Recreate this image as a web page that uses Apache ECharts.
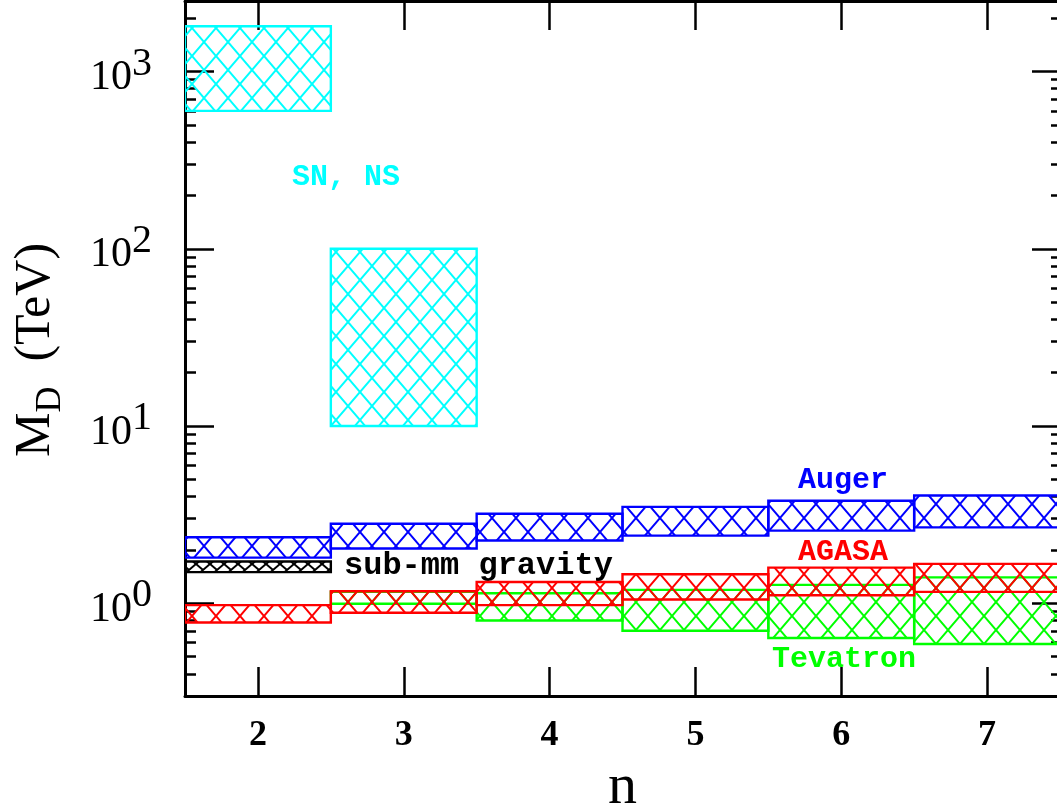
<!DOCTYPE html>
<html><head><meta charset="utf-8">
<script src="https://cdn.jsdelivr.net/npm/echarts@6/dist/echarts.min.js"></script>
<style>html,body{margin:0;padding:0;background:#fff}#c{width:1057px;height:803px}</style>
</head><body><div id="c"></div>
<script>
// ---- data ----
const nTicks = [2, 3, 4, 5, 6, 7];
const xTickLabels = ['2', '3', '4', '5', '6', '7'];
const yMajorTicks = [1, 10, 100, 1000];
const yTickExponents = ['0', '1', '2', '3'];
const yMinorTicks = [0.4, 0.5, 0.6, 0.7, 0.8, 0.9,
  2, 3, 4, 5, 6, 7, 8, 9,
  20, 30, 40, 50, 60, 70, 80, 90,
  200, 300, 400, 500, 600, 700, 800, 900, 2000];

const snN = [2, 3];
const snLow = [600, 10];
const snHigh = [1800, 100];

const augerN = [2, 3, 4, 5, 6, 7];
const augerLow = [1.81, 2.04, 2.26, 2.41, 2.57, 2.68];
const augerHigh = [2.36, 2.81, 3.20, 3.50, 3.79, 4.06];

const agasaN = [2, 3, 4, 5, 6, 7];
const agasaLow = [0.78, 0.885, 0.977, 1.05, 1.11, 1.16];
const agasaHigh = [0.977, 1.17, 1.32, 1.46, 1.59, 1.67];

const tevN = [3, 4, 5, 6, 7];
const tevLow = [0.994, 0.80, 0.70, 0.637, 0.589];
const tevHigh = [1.16, 1.14, 1.19, 1.27, 1.40];

const subN = [2];
const subLow = [1.50];
const subHigh = [1.72];

// ---- styles ----
const COL = { cyan: '#00ffff', blue: '#0000ff', red: '#ff0000', green: '#00ff00', black: '#000000' };
const MONO = "'Liberation Mono', 'DejaVu Sans Mono', monospace";
const SERIF = "'Liberation Serif', 'DejaVu Serif', serif";

function hatch(color, w, h, lw) {
  const c = document.createElement('canvas');
  c.width = w; c.height = h;
  const g = c.getContext('2d');
  g.strokeStyle = color; g.lineWidth = lw;
  g.beginPath();
  for (let k = -1; k <= 1; k++) {
    g.moveTo(k * w, 0); g.lineTo(k * w + w, h);
    g.moveTo(k * w + w, 0); g.lineTo(k * w, h);
  }
  g.stroke();
  return { image: c, repeat: 'repeat' };
}

function boxSeries(name, ns, lo, hi, color, tw, th) {
  const pat = hatch(color, tw, th, 2);
  return {
    type: 'custom', name: name, xAxisIndex: 0, yAxisIndex: 0,
    silent: true, animation: false, clip: true,
    data: ns.map((n, i) => [n, lo[i], hi[i]]),
    encode: { x: 0, y: [1, 2] },
    renderItem: function (params, api) {
      const n = api.value(0);
      const p1 = api.coord([n - 0.5, api.value(2)]);
      const p2 = api.coord([n + 0.5, api.value(1)]);
      return {
        type: 'rect',
        shape: { x: p1[0], y: p1[1], width: p2[0] - p1[0], height: p2[1] - p1[1] },
        style: { fill: pat, stroke: color, lineWidth: 2.4 }
      };
    }
  };
}

const chart = echarts.init(document.getElementById('c'), null, { renderer: 'canvas' });

const axisLine = { show: true, onZero: false, lineStyle: { color: '#000', width: 3 } };
const xCommon = { type: 'value', min: 1.5, max: 7.5, splitLine: { show: false } };
const yCommon = { type: 'log', logBase: 10, min: 0.3, max: 2500, splitLine: { show: false } };

chart.setOption({
  animation: false,
  backgroundColor: '#fff',
  grid: { left: 185, top: 1, width: 875, height: 695, containLabel: false, outerBoundsMode: 'none' },
  xAxis: [
    Object.assign({}, xCommon, {
      position: 'bottom', axisLine: axisLine,
      axisTick: { show: true, inside: true, length: 29, customValues: nTicks, lineStyle: { color: '#000', width: 2.5 } },
      axisLabel: {
        show: true, customValues: nTicks, margin: 22,
        formatter: v => xTickLabels[nTicks.indexOf(v)],
        fontFamily: SERIF, fontWeight: 'bold', fontSize: 36, color: '#000'
      },
      name: 'n', nameLocation: 'middle', nameGap: 56,
      nameTextStyle: { fontFamily: SERIF, fontSize: 58, color: '#000' }
    }),
    Object.assign({}, xCommon, {
      position: 'top', axisLine: axisLine,
      axisTick: { show: true, inside: true, length: 29, customValues: nTicks, lineStyle: { color: '#000', width: 2.5 } },
      axisLabel: { show: false }
    })
  ],
  yAxis: [
    Object.assign({}, yCommon, {
      position: 'left', axisLine: axisLine,
      axisTick: { show: true, inside: true, length: 29, customValues: yMajorTicks, lineStyle: { color: '#000', width: 2.5 } },
      axisLabel: {
        show: true, customValues: yMajorTicks, margin: 33,
        formatter: v => '{b|10}{s|' + yTickExponents[yMajorTicks.indexOf(v)] + '}',
        rich: {
          b: { fontFamily: SERIF, fontSize: 42, color: '#000', verticalAlign: 'bottom' },
          s: { fontFamily: SERIF, fontSize: 40, color: '#000', verticalAlign: 'bottom', padding: [0, 0, 15, 0] }
        }
      }
    }),
    Object.assign({}, yCommon, {
      position: 'left', axisLine: { show: false },
      axisTick: { show: true, inside: true, length: 11, customValues: yMinorTicks, lineStyle: { color: '#000', width: 2.5 } },
      axisLabel: { show: false }
    }),
    Object.assign({}, yCommon, {
      position: 'right', axisLine: axisLine,
      axisTick: { show: true, inside: true, length: 28, customValues: yMajorTicks, lineStyle: { color: '#000', width: 2.5 } },
      axisLabel: { show: false }
    }),
    Object.assign({}, yCommon, {
      position: 'right', axisLine: { show: false },
      axisTick: { show: true, inside: true, length: 9, customValues: yMinorTicks, lineStyle: { color: '#000', width: 2.5 } },
      axisLabel: { show: false }
    })
  ],
  series: [
    boxSeries('Tevatron', tevN, tevLow, tevHigh, COL.green, 24, 28),
    boxSeries('AGASA', agasaN, agasaLow, agasaHigh, COL.red, 24, 28),
    boxSeries('Auger', augerN, augerLow, augerHigh, COL.blue, 24, 28),
    boxSeries('sub-mm gravity', subN, subLow, subHigh, COL.black, 14, 12),
    boxSeries('SN, NS', snN, snLow, snHigh, COL.cyan, 24, 28)
  ],
  graphic: [
    {
      type: 'text', x: 40, y: 350, rotation: Math.PI / 2,
      style: {
        text: '{m|M}{d|D}{m|  (TeV)}', align: 'center', verticalAlign: 'middle',
        rich: {
          m: { fontFamily: SERIF, fontSize: 50, fill: '#000', verticalAlign: 'top' },
          d: { fontFamily: SERIF, fontSize: 36, fill: '#000', verticalAlign: 'top', padding: [22, 0, 0, 0] }
        }
      }
    },
    { type: 'text', x: 346, y: 177, style: { text: 'SN, NS', fill: COL.cyan, font: 'bold 30px ' + MONO, align: 'center', verticalAlign: 'middle' } },
    { type: 'text', x: 843, y: 480, style: { text: 'Auger', fill: COL.blue, font: 'bold 30px ' + MONO, align: 'center', verticalAlign: 'middle' } },
    { type: 'text', x: 843, y: 552, style: { text: 'AGASA', fill: COL.red, font: 'bold 30px ' + MONO, align: 'center', verticalAlign: 'middle' } },
    { type: 'text', x: 844, y: 659, style: { text: 'Tevatron', fill: COL.green, font: 'bold 30px ' + MONO, align: 'center', verticalAlign: 'middle' } },
    { type: 'text', x: 344, y: 566, style: { text: 'sub-mm gravity', fill: '#000', font: 'bold 32px ' + MONO, align: 'left', verticalAlign: 'middle' } }
  ]
});
</script>
</body></html>
